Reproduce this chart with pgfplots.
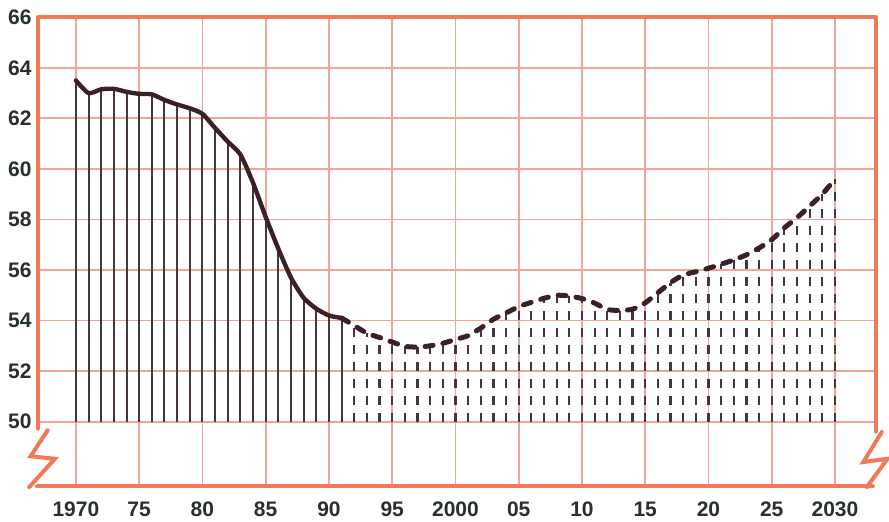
\documentclass[border=0pt]{standalone}
\usepackage{pgfplots}
\pgfplotsset{compat=1.18}
\usepackage{pgfplotstable}
\usepackage{fontspec}
\setmainfont{Liberation Sans}
\definecolor{gridcol}{HTML}{F2A496}
\definecolor{framecol}{HTML}{EF7A58}
\definecolor{curvecol}{HTML}{3A2028}
\definecolor{barcol}{HTML}{45353E}
\definecolor{labcol}{HTML}{26302F}

\pgfplotstableread{
year v
1970 63.5
1971 63.0
1972 63.15
1973 63.17
1974 63.05
1975 62.97
1976 62.95
1977 62.73
1978 62.55
1979 62.4
1980 62.18
1981 61.62
1982 61.08
1983 60.57
1984 59.45
1985 58.1
1986 56.84
1987 55.7
1988 54.9
1989 54.47
1990 54.2
1991 54.1
}\solid

\pgfplotstableread{
year v
1991 54.1
1992 53.8
1993 53.5
1994 53.33
1995 53.15
1996 52.98
1997 52.95
1998 53.0
1999 53.1
2000 53.25
2001 53.4
2002 53.7
2003 54.05
2004 54.3
2005 54.55
2006 54.72
2007 54.88
2008 55.0
2009 54.97
2010 54.87
2011 54.69
2012 54.44
2013 54.4
2014 54.45
2015 54.7
2016 55.1
2017 55.5
2018 55.8
2019 55.93
2020 56.07
2021 56.23
2022 56.4
2023 56.6
2024 56.87
2025 57.2
2026 57.67
2027 58.07
2028 58.53
2029 59.0
2030 59.6
}\dashed

\pgfplotstableread{
year v
1992 53.8
1993 53.5
1994 53.33
1995 53.15
1996 52.98
1997 52.95
1998 53.0
1999 53.1
2000 53.25
2001 53.4
2002 53.7
2003 54.05
2004 54.3
2005 54.55
2006 54.72
2007 54.88
2008 55.0
2009 54.97
2010 54.87
2011 54.69
2012 54.44
2013 54.4
2014 54.45
2015 54.7
2016 55.1
2017 55.5
2018 55.8
2019 55.93
2020 56.07
2021 56.23
2022 56.4
2023 56.6
2024 56.87
2025 57.2
2026 57.67
2027 58.07
2028 58.53
2029 59.0
2030 59.6
}\dashedbars

\begin{document}
\begin{tikzpicture}
\begin{axis}[
  scale only axis,
  width=419pt, height=234.5pt,
  xmin=1967, xmax=2033.24,
  ymin=47.44, ymax=66,
  axis line style={draw=none},
  clip=false,
  xtick={1970,1975,...,2030},
  xticklabels={1970,75,80,85,90,95,2000,05,10,15,20,25,2030},
  ytick={50,52,...,66},
  major tick length=0pt,
  grid=major,
  major grid style={gridcol, line width=0.9pt},
  tick label style={font=\fontsize{10.5}{12}\selectfont\bfseries, text=labcol},
  xticklabel style={anchor=north, inner sep=0pt, yshift=-7.5pt},
  yticklabel style={anchor=east, inner sep=0pt, xshift=-3pt},
  /pgf/number format/assume math mode=true,
]
% solid bars
\addplot[draw=none, mark=none, forget plot,
  error bars/.cd, y dir=plus, y explicit, error mark=none,
  error bar style={draw=barcol, line width=1pt, solid}]
  table[x=year, y expr=50, y error expr=\thisrow{v}-50] {\solid};
% dashed bars
\addplot[draw=none, mark=none, forget plot,
  error bars/.cd, y dir=plus, y explicit, error mark=none,
  error bar style={draw=barcol, line width=1.1pt, dash pattern=on 4.5pt off 4pt}]
  table[x=year, y expr=50, y error expr=\thisrow{v}-50] {\dashedbars};
% curve
\addplot[curvecol, line width=2.2pt, smooth, tension=0.4, mark=none, line cap=round, line join=round]
  table[x=year, y=v] {\solid};
\addplot[curvecol, line width=2.5pt, smooth, tension=0.4, mark=none, line cap=round,
  dash pattern=on 4pt off 5pt]
  table[x=year, y=v] {\dashed};
% frame
\draw[framecol, line width=2pt, line cap=round, line join=round]
  (axis cs:1967,49.72) -- (axis cs:1967,66) -- (axis cs:2033.24,66) -- (axis cs:2033.24,49.6);
\draw[framecol, line width=2pt, line cap=round]
  (axis cs:1966.92,47.44) -- (axis cs:2033.0,47.44);
\draw[framecol, line width=2pt, line cap=round, line join=miter]
  (axis cs:1967.77,49.66) -- (axis cs:1966.42,48.63) -- (axis cs:1968.34,48.53) -- (axis cs:1966.31,47.41);
\draw[framecol, line width=2pt, line cap=round, line join=miter]
  (axis cs:2033.70,49.59) -- (axis cs:2032.24,48.40) -- (axis cs:2034.15,48.53) -- (axis cs:2032.51,47.41);
\coordinate (bl) at (axis cs:1964.0,46.054);
\coordinate (tr) at (axis cs:2034.27,66.685);
\end{axis}
\pgfresetboundingbox
\path[use as bounding box] (bl) rectangle (tr);
\end{tikzpicture}
\end{document}
